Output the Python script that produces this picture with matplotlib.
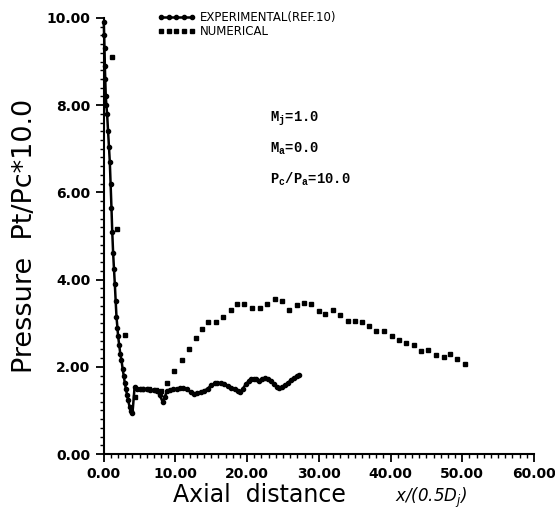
import matplotlib
matplotlib.use('Agg')
import matplotlib.pyplot as plt
from matplotlib.ticker import MultipleLocator, FormatStrFormatter

# experimental data (ref. 10)
exp_x = [0.0, 0.05, 0.1, 0.15, 0.2, 0.28, 0.36, 0.46, 0.6, 0.72, 0.84, 0.95, 1.07, 1.18,
         1.3, 1.42, 1.54, 1.66, 1.77, 1.9, 2.0, 2.15, 2.3, 2.47, 2.63, 2.8, 2.94, 3.1,
         3.25, 3.4, 3.6, 3.8, 4.0,
         4.3, 4.6, 5.0, 5.5, 6.0, 6.5, 7.0, 7.4, 7.8, 8.2, 8.5, 8.8, 9.2, 9.7, 10.2,
         10.7, 11.1, 11.6, 12.1, 12.6, 13.0, 13.5, 14.0, 14.5, 15.0, 15.5, 15.8, 16.3,
         16.8, 17.3, 17.8, 18.3, 18.7, 19.0, 19.4, 19.8, 20.2, 20.6, 20.9, 21.3, 21.7,
         22.1, 22.5, 22.9, 23.3, 23.7, 24.1, 24.5, 24.9, 25.3, 25.7, 26.1, 26.5, 26.9, 27.2]
exp_y = [9.9, 9.6, 9.3, 8.9, 8.6, 8.2, 8.0, 7.8, 7.4, 7.05, 6.7, 6.2, 5.65, 5.1,
         4.62, 4.25, 3.9, 3.5, 3.15, 2.9, 2.7, 2.5, 2.3, 2.15, 1.95, 1.78, 1.62, 1.48,
         1.35, 1.23, 1.08, 0.98, 0.93,
         1.54, 1.5, 1.5, 1.48, 1.5, 1.47, 1.47, 1.45, 1.35, 1.2, 1.3, 1.45, 1.47, 1.48, 1.5,
         1.52, 1.52, 1.48, 1.42, 1.38, 1.39, 1.42, 1.45, 1.5, 1.58, 1.62, 1.63, 1.63,
         1.6, 1.57, 1.52, 1.48, 1.44, 1.42, 1.5, 1.6, 1.67, 1.71, 1.73, 1.72, 1.68,
         1.72, 1.74, 1.73, 1.68, 1.6, 1.54, 1.52, 1.53, 1.58, 1.63, 1.7, 1.75, 1.78, 1.81]

# numerical results
num_x = [1.2, 1.86, 2.94, 4.3, 5.3, 6.3, 7.3, 8.0, 8.77, 9.8, 10.9, 11.9, 12.9, 13.7,
         14.6, 15.6, 16.6, 17.7, 18.6, 19.6, 20.65, 21.8, 22.75, 23.9, 24.85, 25.9,
         26.95, 27.9, 28.9, 30.0, 30.9, 32.0, 32.9, 34.0, 35.0, 36.0, 37.0, 38.0, 39.1,
         40.2, 41.2, 42.2, 43.3, 44.2, 45.2, 46.3, 47.4, 48.3, 49.3, 50.35]
num_y = [9.1, 5.16, 2.72, 1.31, 1.5, 1.48, 1.47, 1.45, 1.63, 1.9, 2.16, 2.4, 2.67, 2.87,
         3.02, 3.02, 3.14, 3.31, 3.44, 3.43, 3.35, 3.35, 3.44, 3.56, 3.5, 3.31,
         3.41, 3.46, 3.44, 3.28, 3.2, 3.31, 3.18, 3.06, 3.05, 3.02, 2.93, 2.83, 2.83,
         2.7, 2.62, 2.54, 2.5, 2.36, 2.39, 2.26, 2.22, 2.29, 2.19, 2.07]

fig = plt.figure(figsize=(5.55, 5.13), dpi=100)
ax = fig.add_axes([0.187, 0.115, 0.775, 0.85])

ax.plot(exp_x, exp_y, color='black', lw=1.8, marker='o', ms=3,
        label='EXPERIMENTAL(REF.10)', clip_on=False)
ax.plot(num_x, num_y, color='black', ls='none', marker='s', ms=2.6,
        label='NUMERICAL', clip_on=False)

ax.set_xlim(0, 60)
ax.set_ylim(0, 10)
ax.xaxis.set_major_locator(MultipleLocator(10))
ax.xaxis.set_minor_locator(MultipleLocator(1))
ax.yaxis.set_major_locator(MultipleLocator(2))
ax.yaxis.set_minor_locator(MultipleLocator(0.2))
ax.xaxis.set_major_formatter(FormatStrFormatter('%.2f'))
ax.yaxis.set_major_formatter(FormatStrFormatter('%.2f'))
ax.tick_params(which='major', direction='out', length=6, width=1.3, labelsize=10)
ax.tick_params(which='minor', direction='out', length=3, width=1.0)
for lab in ax.get_xticklabels() + ax.get_yticklabels():
    lab.set_fontweight('bold')

ax.spines['top'].set_visible(False)
ax.spines['right'].set_visible(False)
ax.spines['left'].set_linewidth(1.5)
ax.spines['bottom'].set_linewidth(1.5)

ax.set_ylabel('Pressure  Pt/Pc*10.0', fontsize=19.5, labelpad=6)
fig.text(0.312, 0.022, 'Axial  distance', fontsize=17, va='baseline')
fig.text(0.712, 0.022, 'x/(0.5D$_\\mathregular{j}$)', fontsize=12, style='italic',
         va='baseline')

leg = ax.legend(loc='upper left', bbox_to_anchor=(0.1, 1.04), frameon=False,
                numpoints=5, handlelength=3.2, handletextpad=0.4,
                labelspacing=0.05, prop={'size': 8.5})

mono = dict(family='Liberation Mono', fontsize=10, fontweight='bold')
ax.text(23.2, 7.68, 'M$_\\mathregular{j}$=1.0', va='center', **mono)
ax.text(23.2, 6.99, 'M$_\\mathregular{a}$=0.0', va='center', **mono)
ax.text(23.2, 6.31, 'P$_\\mathregular{c}$/P$_\\mathregular{a}$=10.0', va='center', **mono)

fig.savefig('out.png', dpi=100)
